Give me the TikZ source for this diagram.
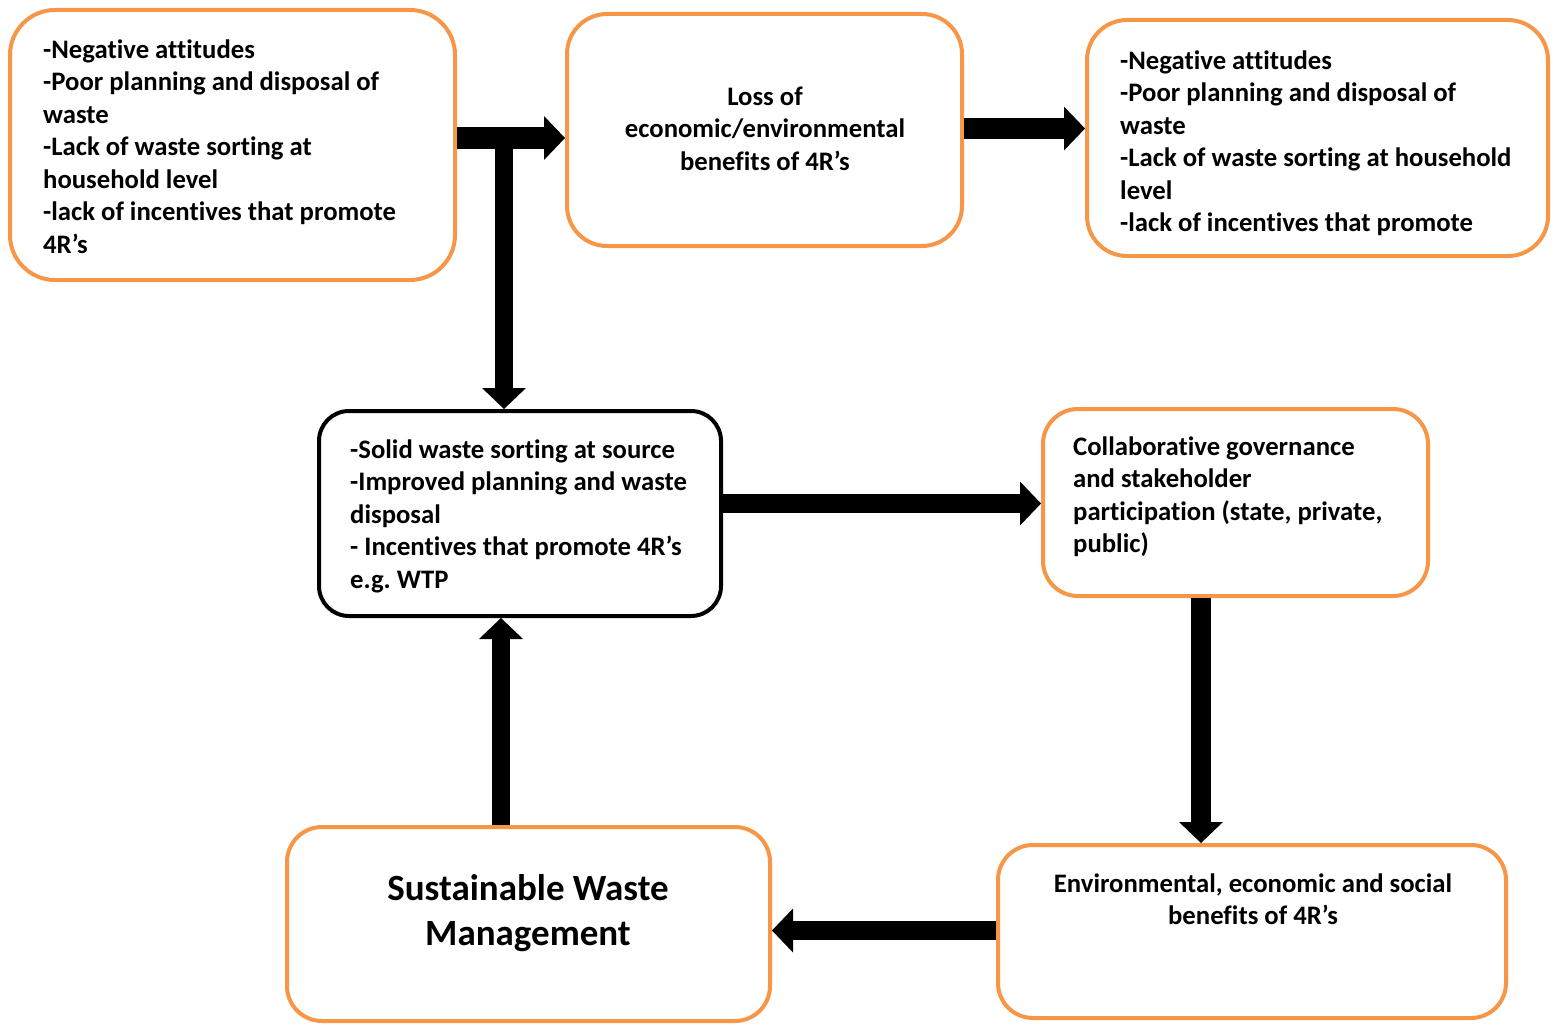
\documentclass[tikz,border=0pt]{standalone}
\usepackage{fontspec}
\setmainfont[Ligatures={NoCommon}]{Carlito}
\usetikzlibrary{arrows.meta}
\definecolor{boxorange}{HTML}{F79646}
\frenchspacing
\tikzset{
  obox/.style={draw=boxorange, line width=4pt, rounded corners=#1, fill=white},
  kbox/.style={draw=black, line width=4pt, rounded corners=#1, fill=white},
  txt/.style={inner sep=0pt, anchor=north west, align=left, font=\fontsize{26.7}{32.5}\selectfont\bfseries},
  ctxt/.style={inner sep=0pt, anchor=north, align=center, font=\fontsize{26.7}{32.5}\selectfont\bfseries},
  barrow/.style={draw=black, line width=#1, line cap=butt, -{Triangle[length=21pt,width=44pt,line width=0pt]}},
}
\begin{document}
\begin{tikzpicture}[x=1pt,y=-1pt]
\useasboundingbox (0,0) rectangle (1559,1025);
% boxes
\node[obox=45pt, minimum width=445pt, minimum height=270pt] (A) at (232.5,145) {};
\node[obox=40pt, minimum width=395pt, minimum height=232pt] (B) at (764.5,130) {};
\node[obox=40pt, minimum width=461pt, minimum height=236pt] (C) at (1317.5,138) {};
\node[kbox=30pt, minimum width=402pt, minimum height=205pt] (D) at (520,513.5) {};
\node[obox=35pt, minimum width=385pt, minimum height=187pt] (E) at (1235.5,502.5) {};
\node[obox=35pt, minimum width=508pt, minimum height=173pt] (F) at (1252,931.5) {};
\node[obox=35pt, minimum width=483pt, minimum height=194pt] (G) at (528.5,924) {};
% texts
\node[txt] (tA) at (43,35.25) {\strut-Negative attitudes\\-Poor planning and disposal of\\waste\\-Lack of waste sorting at\\household level\\-lack of incentives that promote\\4R’s};
\node[ctxt] (tB) at (765,82.25) {\strut Loss of\\economic/environmental\\benefits of 4R’s};
\node[txt] (tC) at (1120,46.25) {\strut-Negative attitudes\\-Poor planning and disposal of\\waste\\-Lack of waste sorting at household\\level\\-lack of incentives that promote};
\node[txt] (tD) at (350,435.25) {\strut-Solid waste sorting at source\\-Improved planning and waste\\disposal\\- Incentives that promote 4R’s\\e.g. WTP};
\node[txt] (tE) at (1073,432.25) {\strut Collaborative governance\\and stakeholder\\participation (state, private,\\public)};
\node[ctxt] (tF) at (1253,869.25) {\strut Environmental, economic and social\\benefits of 4R’s};
\node[ctxt, font=\fontsize{37}{45}\selectfont\bfseries] (tG) at (528,868.5) {\strut Sustainable Waste\\Management};
% arrows
\coordinate (tj) at (504,127);
\draw[barrow=22pt] (A.east |- 0,138) -- (B.west |- 0,138);
\draw[barrow=18pt] (tj) -- (D.north -| tj);
\draw[barrow=21pt] (B.east |- 0,128.5) -- (C.west |- 0,128.5);
\draw[barrow=19pt] (D.east |- 0,503.5) -- (E.west |- 0,503.5);
\draw[barrow=20pt] (1201,0 |- E.south) -- (1201,0 |- F.north);
\draw[barrow=19pt] (F.west |- 0,930.5) -- (G.east |- 0,930.5);
\draw[barrow=18pt] (501,0 |- G.north) -- (501,0 |- D.south);
\end{tikzpicture}
\end{document}
